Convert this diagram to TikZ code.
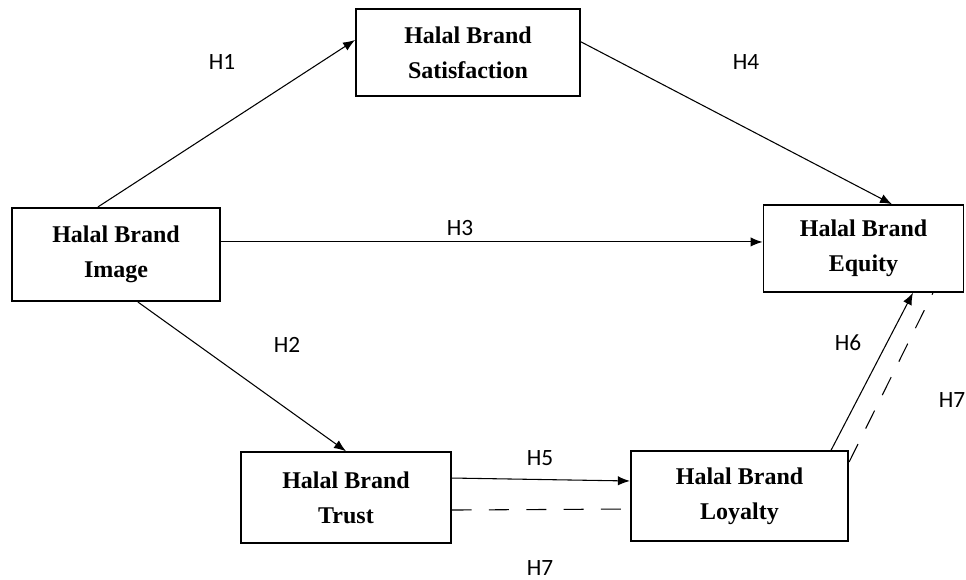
\documentclass[tikz,border=0pt]{standalone}
\usepackage{fontspec}
\setmainfont{Liberation Serif}
\newfontfamily\hlabelfont{Carlito}
\usetikzlibrary{arrows.meta}

\begin{document}
\begin{tikzpicture}
[x=0.75pt,y=-0.75pt,
 construct/.style={draw,line width=1.4pt,align=center,inner sep=0pt,
   font=\fontsize{18}{26}\selectfont\bfseries},
 path/.style={line width=0.8pt,-{Latex[length=9pt,width=7pt]}},
 hyp/.style={font=\fontsize{17.5}{19}\selectfont\hlabelfont}]
\useasboundingbox (0,0) rectangle (966,580);

\node[construct,minimum width=168pt,minimum height=65pt] (sat) at (468,52.5) {Halal Brand\\Satisfaction};
\node[construct,minimum width=156pt,minimum height=70pt] (img) at (116,254.5) {Halal Brand\\Image};
\node[construct,minimum width=150pt,minimum height=65pt] (eq) at (863.5,248.5) {Halal Brand\\Equity};
\node[construct,minimum width=157pt,minimum height=68pt] (tru) at (346,497.5) {Halal Brand\\Trust};
\node[construct,minimum width=163pt,minimum height=67pt] (loy) at (739.5,496) {Halal Brand\\Loyalty};

\node[hyp] (h1) at (222,62) {H1};
\node[hyp] (h4) at (746,62) {H4};
\node[hyp] (h3) at (460,228) {H3};
\node[hyp] (h2) at (287,345) {H2};
\node[hyp] (h6) at (848,343) {H6};
\node[hyp] (h7r) at (952,400) {H7};
\node[hyp] (h5) at (540,458) {H5};
\node[hyp] (h7b) at (540,568) {H7};

\draw[path] ([xshift=-13.5pt]img.north) -- ([yshift=9.4pt]sat.west);
\draw[path] ([yshift=8pt]sat.east) -- ([xshift=21.4pt]eq.north);
\draw[path] ([yshift=9.4pt]img.east) -- ([yshift=4.9pt]eq.west);
\draw[path] ([xshift=16.5pt]img.south) -- (tru.north);
\draw[path] ([yshift=14.6pt]tru.east) -- ([yshift=11.25pt]loy.west);
\draw[path] ([xshift=68.6pt]loy.north) -- ([xshift=37.1pt]eq.south);
\draw[line width=0.8pt,dash pattern=on 15pt off 13pt] ([yshift=-9.4pt]tru.east) -- ([yshift=-9.75pt]loy.west);
\draw[line width=0.8pt,dash pattern=on 15pt off 13pt] ([yshift=25.5pt]loy.east) -- ([xshift=52.1pt]eq.south);
\end{tikzpicture}
\end{document}
